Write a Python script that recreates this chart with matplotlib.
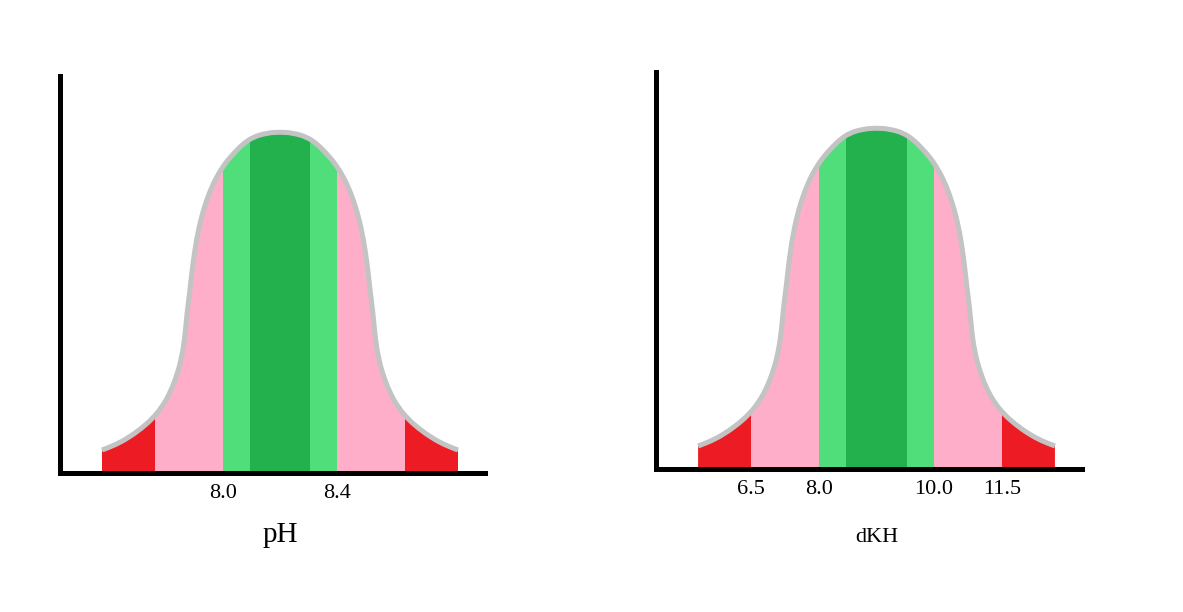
import matplotlib
matplotlib.use('Agg')
import matplotlib.pyplot as plt
from matplotlib.path import Path
from matplotlib.patches import PathPatch

# left half of the bell (pixels): offset from the peak, height above the axis
half_dx = [-178, -165, -152, -138, -127, -118, -110, -103, -98, -95, -93,
           -90, -88, -85, -82, -78, -73, -67, -60, -53, -45, -37, -27, -13, 0]
half_h = [23, 28, 35, 45, 55, 66, 80, 98, 117, 137, 160,
          183, 202, 224, 241, 258, 274, 289, 302, 312, 321, 329, 336, 340, 341]

# colour bands under the curve
band_edges = [-178, -125, -57, -30, 30, 57, 125, 178]
band_colors = ['#ED1C24', '#FFAEC9', '#50DE7A', '#22B14C',
               '#50DE7A', '#FFAEC9', '#ED1C24']

ph_ticks = [-57, 57]
ph_labels = ['8.0', '8.4']
dkh_ticks = [-125, -57, 57, 125]
dkh_labels = ['6.5', '8.0', '10.0', '11.5']

plt.rcParams['font.family'] = ['Liberation Serif', 'DejaVu Serif']

# the curve is symmetric, so mirror the left half
curve_x = half_dx + [-v for v in half_dx[-2::-1]]
curve_y = half_h + half_h[-2::-1]


def smooth_path(xs, ys, close=False):
    # quadratic bezier through midpoints, the read points act as controls
    pts = list(zip(xs, ys))
    verts = [pts[0]]
    codes = [Path.MOVETO]
    mid = lambda a, b: ((a[0] + b[0]) / 2, (a[1] + b[1]) / 2)
    verts.append(mid(pts[0], pts[1]))
    codes.append(Path.LINETO)
    for i in range(1, len(pts) - 1):
        verts += [pts[i], mid(pts[i], pts[i + 1])]
        codes += [Path.CURVE3, Path.CURVE3]
    verts.append(pts[-1])
    codes.append(Path.LINETO)
    if close:
        verts += [(pts[-1][0], 0), (pts[0][0], 0), pts[0]]
        codes += [Path.LINETO, Path.LINETO, Path.CLOSEPOLY]
    return Path(verts, codes)


fig = plt.figure(figsize=(11.83, 6.12), dpi=100)
W, H = 1183.0, 612.0


def bell(ax, ticks, labels, title, title_size, label_dy):
    ax.set_xlim(-220, 205)
    ax.set_ylim(0, 397)
    clip = PathPatch(smooth_path(curve_x, curve_y, close=True),
                     facecolor='none', edgecolor='none')
    ax.add_patch(clip)
    lefts = band_edges[:-1]
    widths = [b - a for a, b in zip(band_edges[:-1], band_edges[1:])]
    bars = ax.bar(lefts, [400] * len(lefts), width=widths, align='edge',
                  color=band_colors, linewidth=0)
    for b in bars:
        b.set_clip_path(clip)
    line = PathPatch(smooth_path(curve_x, curve_y), facecolor='none',
                     edgecolor='#C3C3C3', lw=3.6, capstyle='butt')
    ax.add_patch(line)

    for s in ['top', 'right']:
        ax.spines[s].set_visible(False)
    for s in ['left', 'bottom']:
        ax.spines[s].set_linewidth(3.6)
        ax.spines[s].set_capstyle('projecting')
    ax.set_yticks([])
    ax.set_xticks(ticks)
    ax.set_xticklabels(labels, fontsize=16)
    ax.tick_params(axis='x', length=0, pad=8)
    ax.text(0, label_dy, title, ha='center', va='center', fontsize=title_size,
            clip_on=False)


ax1 = fig.add_axes([60 / W, (H - 473) / H, 425 / W, 397 / H])
bell(ax1, ph_ticks, ph_labels, 'pH', 21, -62)

ax2 = fig.add_axes([656 / W, (H - 469) / H, 426 / W, 397 / H])
bell(ax2, dkh_ticks, dkh_labels, 'dKH', 16, -68)

plt.savefig('out.png', dpi=100)
